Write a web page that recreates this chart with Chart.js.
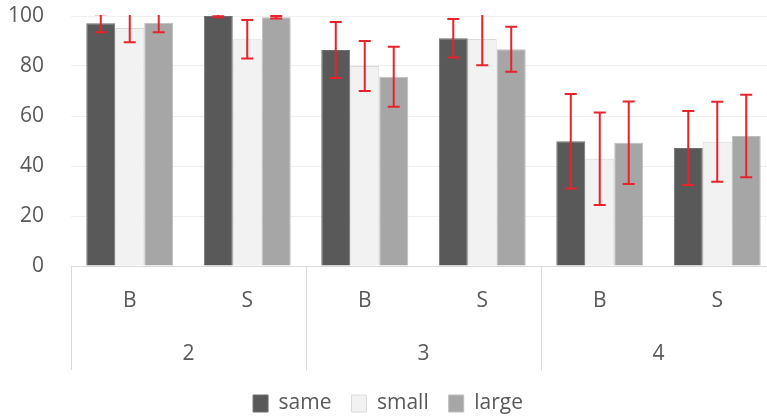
<!DOCTYPE html>
<html>
<head>
<meta charset="utf-8">
<script src="https://cdn.jsdelivr.net/npm/chart.js@4/dist/chart.umd.min.js"></script>
<style>
  html, body { margin: 0; padding: 0; overflow: hidden; background: #fff; }
</style>
</head>
<body>
<canvas id="myChart" width="790" height="420"></canvas>
<script>
// categories (two level x axis)
var categories = ['B', 'S', 'B', 'S', 'B', 'S'];
var groups = ['2', '3', '4'];

// series values
var same  = [97.1, 100, 86.4, 91.1, 49.9, 47.2];
var small = [95.2, 90.7, 80.0, 90.8, 42.9, 49.7];
var large = [97.3, 99.5, 75.7, 86.7, 49.3, 52.0];

// error bars (+/-)
var sameErr  = [3.6, 0.5, 11.2, 7.7, 18.9, 14.8];
var smallErr = [5.7, 7.7, 10.0, 10.5, 18.5, 16.0];
var largeErr = [3.8, 0.5, 12.0, 9.0, 16.5, 16.5];

var yTicks = [0, 20, 40, 60, 80, 100];

var errs = [sameErr, smallErr, largeErr];
var FONT = "'Open Sans', 'Noto Sans', sans-serif";

var errorBars = {
  id: 'errorBars',
  afterDatasetsDraw: function(chart) {
    var ctx = chart.ctx, y = chart.scales.y, a = chart.chartArea;
    ctx.save();
    ctx.beginPath();
    ctx.rect(a.left, a.top - 1, a.right - a.left, a.bottom - a.top + 1);
    ctx.clip();
    ctx.strokeStyle = '#e8232b';
    ctx.lineWidth = 2;
    chart.data.datasets.forEach(function(ds, di) {
      var meta = chart.getDatasetMeta(di);
      meta.data.forEach(function(bar, i) {
        var v = ds.data[i], e = errs[di][i];
        var top = y.getPixelForValue(v + e), bot = y.getPixelForValue(v - e);
        ctx.beginPath();
        ctx.moveTo(bar.x, top); ctx.lineTo(bar.x, bot);
        ctx.moveTo(bar.x - 6, top); ctx.lineTo(bar.x + 6, top);
        ctx.moveTo(bar.x - 6, bot); ctx.lineTo(bar.x + 6, bot);
        ctx.stroke();
      });
    });
    ctx.restore();
  }
};

// vertical separators between the groups under the axis
var dividers = {
  id: 'dividers',
  afterDraw: function(chart) {
    var ctx = chart.ctx, x = chart.scales.x, a = chart.chartArea;
    var xs = [a.left];
    for (var i = 1; i < categories.length - 1; i += 2) {
      xs.push((x.getPixelForValue(i) + x.getPixelForValue(i + 1)) / 2);
    }
    xs.push(a.right);
    ctx.save();
    ctx.strokeStyle = '#d9d9d9';
    ctx.lineWidth = 1;
    xs.forEach(function(px) {
      px = Math.round(px) + 0.5;
      ctx.beginPath();
      ctx.moveTo(px, a.bottom);
      ctx.lineTo(px, a.bottom + 104);
      ctx.stroke();
    });
    ctx.restore();
  }
};

// fixed legend height so it sits low like the original
var legendHeight = {
  id: 'legendHeight',
  beforeLayout: function(chart) {
    var lg = chart.legend;
    if (lg && !lg._fixed) {
      var fit = lg.fit;
      lg.fit = function() { fit.call(this); this.height = 47; };
      lg._fixed = true;
    }
  }
};

var myChart = document.getElementById('myChart').getContext('2d');
var chart = new Chart(myChart, {
  type: 'bar',
  data: {
    labels: categories,
    datasets: [{
      label: 'same',
      data: same,
      backgroundColor: '#595959',
      borderColor: '#6f6f6f',
      borderWidth: 1
    }, {
      label: 'small',
      data: small,
      backgroundColor: '#f2f2f2',
      borderColor: '#dadada',
      borderWidth: 1
    }, {
      label: 'large',
      data: large,
      backgroundColor: '#a6a6a6',
      borderColor: '#bdbdbd',
      borderWidth: 1
    }]
  },
  options: {
    responsive: false,
    animation: false,
    layout: { padding: { top: 16, right: 14, left: 0, bottom: 0 } },
    datasets: { bar: { categoryPercentage: 0.74, barPercentage: 1.0 } },
    scales: {
      y: {
        min: 0,
        max: 100,
        afterBuildTicks: function(s) { s.ticks = yTicks.map(function(v) { return { value: v }; }); },
        afterFit: function(s) { s.width = 71; },
        grid: { color: '#efefef', drawTicks: true, tickLength: 25, tickColor: 'rgba(0,0,0,0)' },
        border: { display: false },
        ticks: { color: '#595959', padding: 2, font: { family: FONT, size: 21 } }
      },
      x: {
        weight: 0,
        afterFit: function(s) { s.height = 46; },
        grid: { display: false },
        border: { display: true, color: '#d9d9d9' },
        ticks: { color: '#595959', padding: 14, font: { family: FONT, size: 21 } }
      },
      x2: {
        type: 'category',
        labels: groups,
        position: 'bottom',
        weight: 1,
        offset: true,
        afterFit: function(s) { s.height = 61; },
        grid: { display: false },
        border: { display: false },
        ticks: { color: '#595959', padding: 21, font: { family: FONT, size: 21 } }
      }
    },
    plugins: {
      tooltip: { enabled: false },
      legend: {
        display: true,
        position: 'bottom',
        labels: {
          color: '#595959',
          boxWidth: 15,
          boxHeight: 17,
          padding: 20,
          font: { family: FONT, size: 21 }
        }
      }
    }
  },
  plugins: [errorBars, dividers, legendHeight]
});
</script>
</body>
</html>
